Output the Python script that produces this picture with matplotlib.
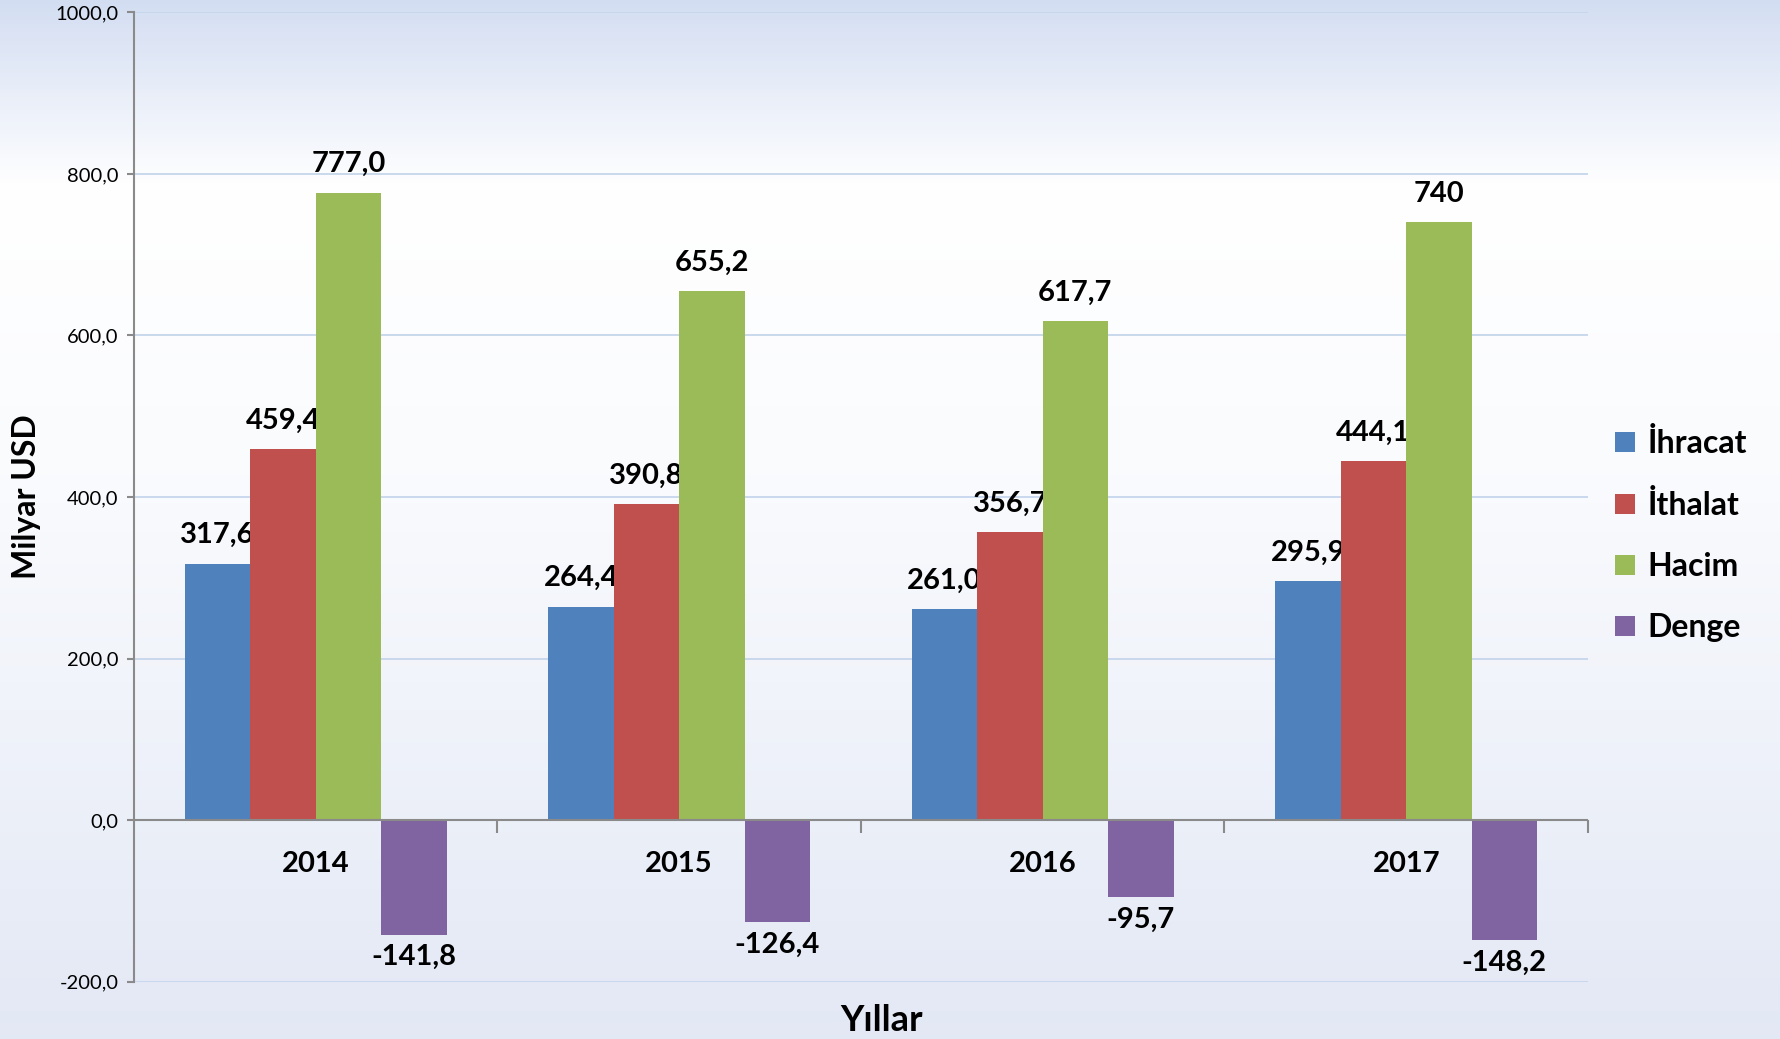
from matplotlib import pyplot as plt
from matplotlib.colors import LinearSegmentedColormap
from matplotlib.ticker import FixedLocator
import numpy as np

# Data
years = ['2014', '2015', '2016', '2017']
ihracat = [317.6, 264.4, 261.0, 295.9]
ithalat = [459.4, 390.8, 356.7, 444.1]
hacim = [777.0, 655.2, 617.7, 740]
denge = [-141.8, -126.4, -95.7, -148.2]
series_names = ['İhracat', 'İthalat', 'Hacim', 'Denge']
y_ticks = [-200, 0, 200, 400, 600, 800, 1000]
y_tick_labels = ['-200,0', '0,0', '200,0', '400,0', '600,0', '800,0', '1000,0']

colors = ['#4f81bd', '#c0504d', '#9bbb59', '#8064a2']

plt.rcParams['font.family'] = ['Lato', 'DejaVu Sans']


def fmt(v):
    # integers stay as they are, floats get one decimal with a comma
    if isinstance(v, int):
        return str(v)
    return f'{v:.1f}'.replace('.', ',')


fig = plt.figure(figsize=(17.81, 10.39), dpi=100)

# background gradient
bg = fig.add_axes([0, 0, 1, 1], zorder=-10)
grad = LinearSegmentedColormap.from_list('bg', [
    (0.0, (0.83, 0.87, 0.95)),
    (0.18, (1.0, 1.0, 1.0)),
    (0.45, (0.98, 0.985, 0.995)),
    (1.0, (0.89, 0.91, 0.96)),
])
bg.imshow(np.linspace(0, 1, 256).reshape(-1, 1), aspect='auto', cmap=grad,
          extent=[0, 1, 0, 1])
bg.axis('off')

ax = fig.add_axes([0.0752, 0.0553, 0.8164, 0.9327])
ax.set_facecolor('none')

x = np.arange(len(years))
w = 0.18
all_series = [ihracat, ithalat, hacim, denge]
for i, (vals, name, c) in enumerate(zip(all_series, series_names, colors)):
    pos = x + (i - 1.5) * w
    ax.bar(pos, vals, width=w, color=c, label=name, zorder=3)
    for px, v in zip(pos, vals):
        if v >= 0:
            ax.annotate(fmt(v), (px, v), xytext=(0, 11), textcoords='offset points',
                        ha='center', va='bottom', fontsize=21, fontweight='bold')
        else:
            ax.annotate(fmt(v), (px, v), xytext=(0, -7), textcoords='offset points',
                        ha='center', va='top', fontsize=21, fontweight='bold')

ax.set_xlim(-0.5, 3.5)
ax.set_ylim(-200, 1000)

# grid
ax.yaxis.set_major_locator(FixedLocator(y_ticks))
ax.set_yticklabels(y_tick_labels, fontsize=14.5)
ax.grid(axis='y', color='#c6d6ec', linewidth=1.3, zorder=0)
ax.axhline(0, color='#8a8a8a', linewidth=1.5, zorder=4)

for s in ['top', 'right']:
    ax.spines[s].set_visible(False)
ax.spines['bottom'].set_position(('data', 0))
ax.spines['bottom'].set_visible(False)
ax.spines['left'].set_color('#8a8a8a')
ax.spines['left'].set_linewidth(1.5)
ax.tick_params(axis='y', length=5, width=1.5, color='#8a8a8a', pad=6)

# year labels at category centres, ticks at boundaries
ax.set_xticks(x)
ax.set_xticks([0.5, 1.5, 2.5, 3.5], minor=True)
ax.set_xticklabels(years)
ax.tick_params(axis='x', which='major', length=0, pad=22, labelsize=21)
ax.tick_params(axis='x', which='minor', length=9, width=1.5, color='#8a8a8a')
for t in ax.get_xticklabels():
    t.set_fontweight('bold')

ax.set_ylabel('Milyar USD', fontsize=23, fontweight='bold', va='center')
ax.yaxis.set_label_coords(-0.074, 0.5)
ax.set_xlabel('Yıllar', fontsize=26, fontweight='bold', va='center')
ax.xaxis.set_label_coords(0.514, -0.04)

ax.legend(loc='center left', bbox_to_anchor=(0.907, 0.485), bbox_transform=fig.transFigure,
          frameon=False, prop={'weight': 'bold', 'size': 23},
          handlelength=0.6, handleheight=0.6, handletextpad=0.4,
          labelspacing=1.0, borderpad=0, borderaxespad=0)

fig.savefig('out.png', dpi=100)
